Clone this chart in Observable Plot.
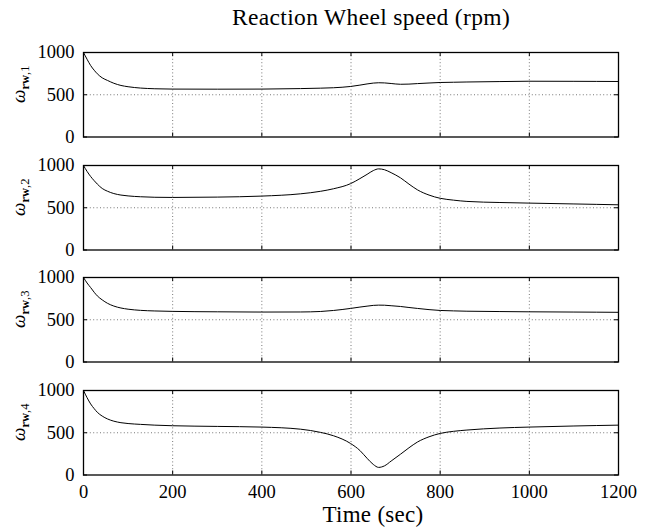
<!DOCTYPE html>
<html>
<head>
<meta charset="utf-8">
<script src="https://cdn.jsdelivr.net/npm/d3@7"></script>
<script src="https://cdn.jsdelivr.net/npm/@observablehq/plot@0.6"></script>
<style>
  html, body { margin: 0; padding: 0; background: #fff; }
  #root { position: relative; width: 658px; height: 531px; overflow: hidden; font-family: "Liberation Serif", serif; color: #000; }
  .panel { position: absolute; left: 0; }
  #title { position: absolute; left: 0; width: 742px; top: 4px; text-align: center; font-size: 23.5px; letter-spacing: 0.35px; }
  #xlabel { position: absolute; left: 0; width: 746px; top: 502px; text-align: center; font-size: 23px; letter-spacing: 0.3px; }
</style>
</head>
<body>
<div id="root">
  <div id="title">Reaction Wheel speed (rpm)</div>
  <div id="xlabel">Time (sec)</div>
</div>
<script>
// ---- data ----
const time   = [0, 8, 16, 24, 31, 42, 54, 68, 84, 100, 128, 160, 200, 300, 400, 487, 532, 561, 599, 620, 636, 650, 662, 675, 690, 711, 730, 749, 775, 800, 830, 860, 934, 999, 1100, 1200];
const wheel1 = [1000, 920, 846, 790, 748, 700, 669, 636, 610, 595, 579, 571, 567, 566, 567, 573, 578, 583, 598, 614, 628, 638, 642, 640, 633, 624, 626, 632, 639, 645, 648, 651, 656, 660, 659, 657];
const wheel2 = [1000, 930, 870, 820, 780, 728, 695, 668, 650, 640, 630, 624, 622, 626, 638, 665, 695, 725, 785, 845, 895, 940, 960, 950, 915, 854, 780, 712, 650, 612, 590, 575, 562, 555, 545, 535];
const wheel3 = [1000, 935, 881, 825, 782, 735, 694, 662, 639, 625, 611, 604, 599, 594, 591, 592, 598, 610, 634, 650, 661, 670, 673, 672, 666, 657, 645, 634, 620, 610, 605, 601, 597, 594, 591, 588];
const wheel4 = [1000, 915, 841, 785, 742, 697, 663, 637, 619, 609, 599, 590, 583, 575, 567, 542, 504, 464, 373, 290, 198, 125, 90, 108, 165, 246, 322, 390, 452, 492, 517, 532, 556, 567, 580, 590];
const series = [wheel1, wheel2, wheel3, wheel4];
const seriesIndex = ["1", "2", "3", "4"];
const xTicks = [0, 200, 400, 600, 800, 1000, 1200];
const yTicks = [0, 500, 1000];
const xGrid = [200, 400, 600, 800, 1000];
const yGrid = [500];

// ---- layout ----
const W = 658, H = 84.5, mT = 12, mL = 83, mR = 40;
const frameTops = [52, 164.5, 277, 390];
const root = document.getElementById("root");
const innerW = W - mL - mR;
const fmt = d => String(d);

series.forEach((vals, i) => {
  const last = i === series.length - 1;
  const mB = last ? 40 : 12;
  const data = time.map((t, k) => ({t, v: vals[k]}));
  const xOpts = {domain: [0, 1200], label: null};
  if (!last) xOpts.axis = null;
  const chart = Plot.plot({
    width: W,
    height: mT + H + mB,
    marginTop: mT, marginBottom: mB, marginLeft: mL, marginRight: mR,
    style: {fontFamily: "Liberation Serif, serif", fontSize: "18.5px", color: "#000", background: "transparent", overflow: "visible"},
    x: xOpts,
    y: {domain: [0, 1000], label: null},
    marks: [
      Plot.gridX(xGrid, {stroke: "#777", strokeOpacity: 1, strokeDasharray: "1,2.4", strokeWidth: 1}),
      Plot.gridY(yGrid, {stroke: "#777", strokeOpacity: 1, strokeDasharray: "1,2.4", strokeWidth: 1}),
      // inward tick marks on all four sides
      Plot.ruleX(xTicks, {x: d => d, insetTop: H - 4, stroke: "#000", strokeWidth: 1}),
      Plot.ruleX(xTicks, {x: d => d, insetBottom: H - 4, stroke: "#000", strokeWidth: 1}),
      Plot.ruleY(yTicks, {y: d => d, insetRight: innerW - 4, stroke: "#000", strokeWidth: 1}),
      Plot.ruleY(yTicks, {y: d => d, insetLeft: innerW - 4, stroke: "#000", strokeWidth: 1}),
      Plot.axisY(yTicks, {tickSize: 0, tickPadding: 9, tickFormat: fmt, label: null, fill: "#000"}),
      last ? Plot.axisX(xTicks, {tickSize: 0, tickPadding: 10, tickFormat: fmt, label: null, fill: "#000"}) : null,
      Plot.line(data, {x: "t", y: "v", curve: "monotone-x", stroke: "#000", strokeWidth: 1}),
      Plot.frame({stroke: "#000", strokeWidth: 1.3})
    ]
  });
  chart.classList.add("panel");
  chart.style.top = (frameTops[i] - mT) + "px";

  // y-axis label: omega with bold "rw" subscript
  const svg = d3.select(chart);
  const txt = svg.append("text")
    .attr("transform", `translate(25, ${mT + H / 2 - 10}) rotate(-90)`)
    .attr("text-anchor", "middle")
    .attr("font-family", "Liberation Serif, serif")
    .attr("fill", "#000");
  txt.append("tspan").attr("font-style", "italic").attr("font-size", 19).text("ω");
  txt.append("tspan").attr("font-weight", "bold").attr("font-size", 12.5).attr("dy", 4).text("rw");
  txt.append("tspan").attr("font-size", 12.5).text("," + seriesIndex[i]);

  root.appendChild(chart);
});
</script>
</body>
</html>
